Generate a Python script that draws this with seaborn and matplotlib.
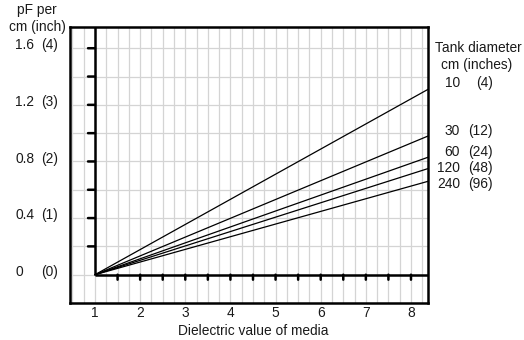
import numpy as np
import pandas as pd
import matplotlib
matplotlib.use("Agg")
import matplotlib.pyplot as plt
import matplotlib.transforms as mtransforms
import seaborn as sns

# Capacitance per unit length vs dielectric constant, one line per tank diameter
tank_cm = [10, 30, 60, 120, 240]
tank_in = [4, 12, 24, 48, 96]
dielectric_start = 1.0
dielectric_end = 8.38
pf_at_end = [1.31, 0.98, 0.83, 0.75, 0.66]

x_tick_labels = [1, 2, 3, 4, 5, 6, 7, 8]
y_tick_pf = ["0", "0.4", "0.8", "1.2", "1.6"]
y_tick_inch = ["(0)", "(1)", "(2)", "(3)", "(4)"]
y_tick_values = [0.0, 0.4, 0.8, 1.2, 1.6]

sns.set_theme(style="white")
plt.rcParams["font.family"] = ["Liberation Sans", "DejaVu Sans"]
FS = 9.9
TXT = "#1a1a1a"

rows = []
for cm, pf in zip(tank_cm, pf_at_end):
    rows.append({"diel": dielectric_start, "pf": 0.0, "tank": cm})
    rows.append({"diel": dielectric_end, "pf": pf, "tank": cm})
df = pd.DataFrame(rows)

fig = plt.figure(figsize=(5.24, 3.40), dpi=100)
ax = fig.add_axes([70 / 524, 1 - 303 / 340, 358 / 524, 276 / 340])

xmin, xmax = 0.446, 8.377
ymin, ymax = -0.2, 1.75
ax.set_xlim(xmin, xmax)
ax.set_ylim(ymin, ymax)

# light grid
for gx in np.arange(0.5, xmax, 0.25):
    ax.axvline(gx, color="#d4d4d4", lw=0.9, zorder=0)
for gy in np.arange(0.0, ymax, 0.2):
    ax.axhline(gy, color="#d4d4d4", lw=0.9, zorder=0)

sns.lineplot(data=df, x="diel", y="pf", units="tank", estimator=None,
             color="black", lw=0.9, ax=ax, legend=False, zorder=3)

# inner axes lines at dielectric 1 and 0 pF
ax.vlines(dielectric_start, 0, ymax, color="black", lw=1.8, zorder=4)
ax.hlines(0, dielectric_start, xmax, color="black", lw=1.8, zorder=4)

# tick marks on the inner axes
tick_w = 1.8
x_minor = np.arange(1.5, 8.01, 0.5)
y_minor = np.arange(0.2, 1.61, 0.2)
for tx in x_minor:
    ax.annotate("", xy=(tx, 0), xytext=(0, -5), textcoords="offset pixels",
                arrowprops=dict(arrowstyle="-", lw=tick_w, color="black",
                                shrinkA=0, shrinkB=0), zorder=5)
for ty in y_minor:
    ax.annotate("", xy=(dielectric_start, ty), xytext=(-7, 0), textcoords="offset pixels",
                arrowprops=dict(arrowstyle="-", lw=tick_w, color="black",
                                shrinkA=0, shrinkB=0), zorder=5)

# outer frame
for s in ax.spines.values():
    s.set_visible(True)
    s.set_color("black")
    s.set_linewidth(1.8)
ax.set_xticks([])
ax.set_yticks([])
ax.set_xlabel("")
ax.set_ylabel("")

# x tick labels below the frame
tx_trans = mtransforms.blended_transform_factory(ax.transData, fig.transFigure)
for v in x_tick_labels:
    ax.text(v, 1 - 313 / 340, str(v), transform=tx_trans, ha="center", va="center",
            fontsize=FS, color=TXT)
fig.text(253 / 524, 1 - 331 / 340, "Dielectric value of media", ha="center", va="center",
         fontsize=FS, color=TXT)

# y tick labels in two columns
ty_trans = mtransforms.blended_transform_factory(fig.transFigure, ax.transData)
for v, a, b in zip(y_tick_values, y_tick_pf, y_tick_inch):
    ax.text(15 / 524, v + 0.02, a, transform=ty_trans, ha="left", va="center", fontsize=FS, color=TXT)
    ax.text(41 / 524, v + 0.02, b, transform=ty_trans, ha="left", va="center", fontsize=FS, color=TXT)
fig.text(37 / 524, 1 - 10 / 340, "pF per", ha="center", va="center", fontsize=FS, color=TXT)
fig.text(37 / 524, 1 - 27 / 340, "cm (inch)", ha="center", va="center", fontsize=FS, color=TXT)

# tank diameter labels on the right
fig.text(478 / 524, 1 - 48 / 340, "Tank diameter", ha="center", va="center", fontsize=FS, color=TXT)
fig.text(477 / 524, 1 - 65 / 340, "cm (inches)", ha="center", va="center", fontsize=FS, color=TXT)
label_offsets = [0.045, 0.035, 0.04, 0.005, -0.02]
for cm, inch, pf, off in zip(tank_cm, tank_in, pf_at_end, label_offsets):
    ax.text(460 / 524, pf + off, str(cm), transform=ty_trans, ha="right", va="center",
            fontsize=FS, color=TXT)
    ax.text(493 / 524, pf + off, f"({inch})", transform=ty_trans, ha="right", va="center",
            fontsize=FS, color=TXT)

fig.savefig("out.png", dpi=100, facecolor="white")
